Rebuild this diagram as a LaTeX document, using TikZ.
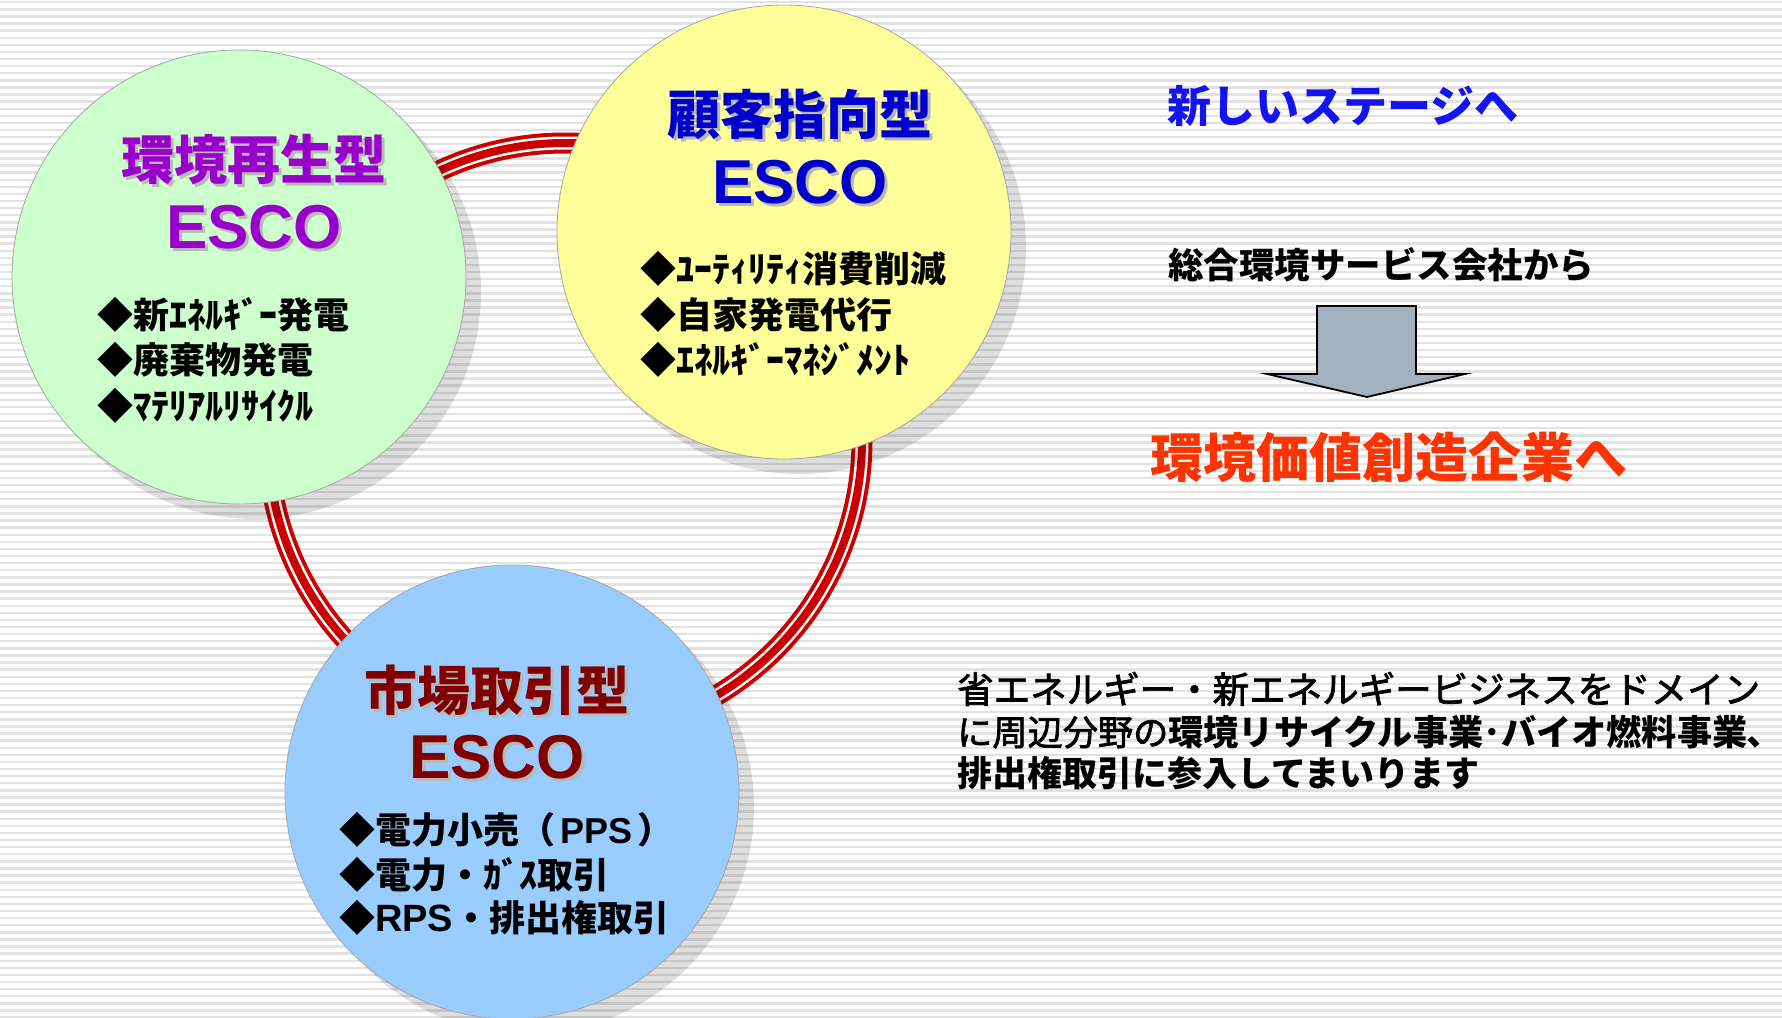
\documentclass[tikz,border=0pt]{standalone}
\usepackage{fontspec}
\newfontfamily\jp{Noto Sans CJK JP}
\newfontfamily\jpm{Noto Sans CJK JP}[FakeBold=2]
\newfontfamily\lib{Liberation Sans}
\definecolor{stripe}{HTML}{E2E2E2}
\definecolor{ringred}{HTML}{CC0000}
\definecolor{gfill}{HTML}{CCFFCC}
\definecolor{yfill}{HTML}{FFFF99}
\definecolor{bfill}{HTML}{99CCFF}
\definecolor{gtext}{HTML}{9900CC}
\definecolor{ytext}{HTML}{0000CC}
\definecolor{btext}{HTML}{800000}
\definecolor{stageblue}{HTML}{1414F0}
\definecolor{orangered}{HTML}{FF3300}
\definecolor{arrowfill}{HTML}{A3B1BF}
\begin{document}
\begin{tikzpicture}[x=1pt,y=-1pt,
  bubble/.style={circle, inner sep=0, minimum size=454pt, draw=black!35, line width=0.8pt},
  bshadow/.style={circle, inner sep=0, minimum size=454pt, fill=black, fill opacity=0.13},
  title/.style={font=\jp\bfseries\fontsize{53}{60}\selectfont, inner sep=0},
  esco/.style={font=\lib\bfseries\fontsize{62}{70}\selectfont, inner sep=0},
  tshadow/.style={text=black!28},
  item/.style={font=\jp\bfseries\fontsize{36}{40}\selectfont, anchor=west, inner sep=0, text=black},
  body/.style={font=\jpm\fontsize{36.5}{40}\selectfont, anchor=west, inner sep=0, text=black},
]
\useasboundingbox (0,0) rectangle (1782,1017);
% background
\fill[white] (0,0) rectangle (1782,1017);
\foreach \i in {0,...,143} {
  \fill[stripe] (0,{\i*7.1+1}) rectangle (1782,{\i*7.1+3.4});
}
% ring
\draw[ringred, line width=21pt] (565,440) circle (297);
\draw[white, line width=13pt] (565,440) circle (297);
\draw[ringred, line width=8pt] (565,440) circle (297);
% shadows
\node[bshadow] (gS) at (254,292) {};
\node[bshadow] (yS) at (799,247) {};
\node[bshadow] (bS) at (527,807) {};
% circles
\node[bubble, fill=gfill] (green) at (239,277) {};
\node[bubble, fill=yfill] (yellow) at (784,232) {};
\node[bubble, fill=bfill] (blue) at (512,792) {};
% green texts
\node[title, tshadow] (gTs) at (257,162) {環境再生型};
\node[title, text=gtext] (gT) at (254,159) {環境再生型};
\node[esco, tshadow] (gEs) at (257,230) {ESCO};
\node[esco, text=gtext] (gE) at (254,227) {ESCO};
\node[item] (g1) at (97,315) {◆新ｴﾈﾙｷﾞｰ発電};
\node[item] (g2) at (97,360) {◆廃棄物発電};
\node[item] (g3) at (97,406) {◆ﾏﾃﾘｱﾙﾘｻｲｸﾙ};
% yellow texts
\node[title, tshadow] (yTs) at (803,117) {顧客指向型};
\node[title, text=ytext] (yT) at (800,114) {顧客指向型};
\node[esco, tshadow] (yEs) at (803,185) {ESCO};
\node[esco, text=ytext] (yE) at (800,182) {ESCO};
\node[item] (y1) at (640,269) {◆ﾕｰﾃｨﾘﾃｨ消費削減};
\node[item] (y2) at (640,315) {◆自家発電代行};
\node[item] (y3) at (640,360) {◆ｴﾈﾙｷﾞｰﾏﾈｼﾞﾒﾝﾄ};
% blue texts
\node[title, tshadow] (bTs) at (500,693) {市場取引型};
\node[title, text=btext] (bT) at (497,690) {市場取引型};
\node[esco, tshadow] (bEs) at (500,760) {ESCO};
\node[esco, text=btext] (bE) at (497,757) {ESCO};
\node[item] (b1) at (339,830) {◆電力小売（\hspace{5pt}{\lib PPS}\hspace{5pt}）};
\node[item] (b2) at (339,875) {◆電力・ｶﾞｽ取引};
\node[item] (b3) at (339,918) {◆{\lib\fontsize{38}{40}\selectfont RPS}・排出権取引};
% right side
\node[font=\jp\bfseries\fontsize{44}{50}\selectfont, text=stageblue, inner sep=0] (stage) at (1343,106) {新しいステージへ};
\node[font=\jp\bfseries\fontsize{35.5}{40}\selectfont, text=black, inner sep=0] (from) at (1381,265) {総合環境サービス会社から};
\node[font=\jp\bfseries\fontsize{53}{58}\selectfont, text=orangered, inner sep=0] (to) at (1389,457) {環境価値創造企業へ};
\draw[fill=arrowfill, draw=black, line width=1.8pt, line join=miter]
  (1317,306) -- (1416,306) -- (1416,374) -- (1465,374) -- (1367,397) -- (1267,374) -- (1317,374) -- cycle;
% body text
\node[body] (l1) at (957,689) {省エネルギー・新エネルギービジネスをドメイン};
\node[body, font=\jpm\fontsize{35.2}{40}\selectfont] (l2) at (957,732) {に周辺分野の{\jp\bfseries 環境リサイクル事業･バイオ燃料事業､}};
\node[body, font=\jp\bfseries\fontsize{35}{40}\selectfont] (l3) at (957,773) {排出権取引に参入してまいります};
\end{tikzpicture}
\end{document}
